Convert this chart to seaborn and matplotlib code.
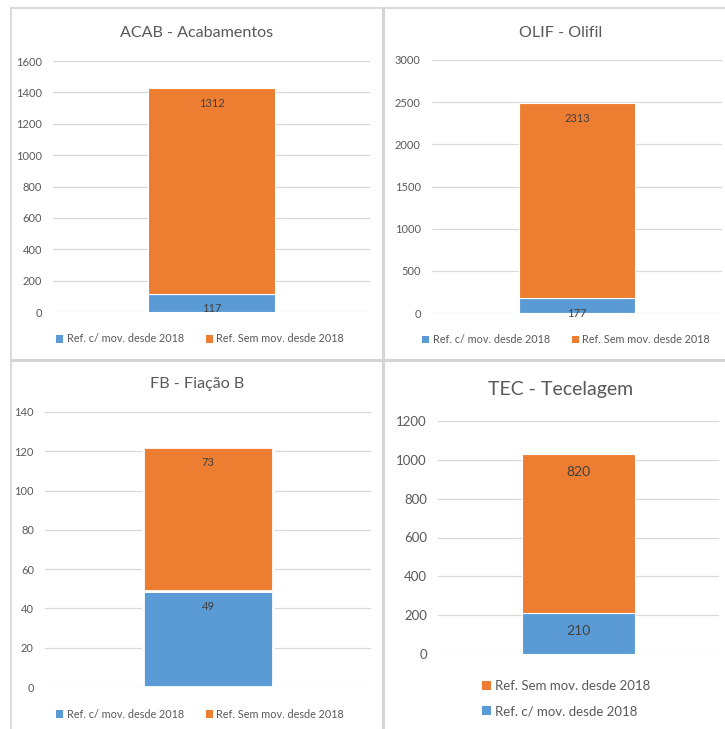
import matplotlib
matplotlib.use("Agg")
import matplotlib.pyplot as plt
from matplotlib.patches import Patch
from matplotlib.lines import Line2D
import seaborn as sns
import pandas as pd

sns.set_theme(style="white")
plt.rcParams['font.family'] = ['Lato', 'DejaVu Sans']

# ---- data ----
titles = ["ACAB - Acabamentos", "OLIF - Olifil", "FB - Fiação B", "TEC - Tecelagem"]
com_mov = [117, 177, 49, 210]        # Ref. c/ mov. desde 2018
sem_mov = [1312, 2313, 73, 820]      # Ref. Sem mov. desde 2018
y_max = [1600, 3000, 140, 1200]
y_step = [200, 500, 20, 200]
label_com = "Ref. c/ mov. desde 2018"
label_sem = "Ref. Sem mov. desde 2018"

BLUE = "#5B9BD5"
ORANGE = "#ED7D31"
TXT = "#595959"
GRID = "#D9D9D9"

W, H = 725, 729
fig = plt.figure(figsize=(W / 100, H / 100), dpi=100)
fig.patch.set_facecolor("white")

# pixel boxes: left, right, top, bottom
boxes = [(53, 370, 61, 312), (432, 722, 60, 313), (45, 371, 412, 687), (438, 719, 421, 654)]
title_pos = [(197, 33, 11.6), (561, 33, 11.6), (197, 384, 11.6), (561, 389, 14)]
tick_fs = [8, 8, 8, 9.5]
lab_fs = [8, 8, 8, 10]
leg_y = [339, 340, 714, 698.5]
leg_x = [200, 566, 200, 566]
leg_fs = [7.8, 7.8, 7.8, 9.5]
edge_lw = [0.8, 0.8, 2.0, 0.8]


def fx(px):
    return px / W


def fy(py):
    return 1 - py / H


for i in range(4):
    l, r, t, b = boxes[i]
    ax = fig.add_axes([fx(l), fy(b), fx(r) - fx(l), fy(t) - fy(b)])
    df = pd.DataFrame({"cat": [titles[i]], "com": [com_mov[i]], "sem": [sem_mov[i]]})
    sns.barplot(data=df, x="cat", y="com", color=BLUE, width=0.4, ax=ax,
                edgecolor="white", linewidth=edge_lw[i], saturation=1, zorder=3)
    sns.barplot(data=df, x="cat", y="sem", bottom=df["com"].values, color=ORANGE, width=0.4,
                ax=ax, edgecolor="white", linewidth=edge_lw[i], saturation=1, zorder=3)
    ax.set_xlim(-0.5, 0.5)
    ax.set_ylim(0, y_max[i])
    ax.set_yticks(range(0, y_max[i] + 1, y_step[i]))
    ax.set_xticks([])
    ax.set_xlabel("")
    ax.set_ylabel("")
    ax.tick_params(axis="y", length=0, pad=8, labelsize=tick_fs[i], labelcolor=TXT)
    ax.grid(axis="y", color=GRID, linewidth=0.9, zorder=0)
    ax.set_axisbelow(True)
    for s in ax.spines.values():
        s.set_visible(False)
    ax.patch.set_alpha(0)
    # data labels (inside end)
    off = -11 if i < 3 else -13
    ax.annotate(str(com_mov[i]), (0, com_mov[i]), xytext=(0, off), textcoords="offset points",
                ha="center", va="center", fontsize=lab_fs[i], color="#404040", zorder=5)
    ax.annotate(str(sem_mov[i]), (0, com_mov[i] + sem_mov[i]), xytext=(0, off),
                textcoords="offset points", ha="center", va="center", fontsize=lab_fs[i],
                color="#404040", zorder=5)
    # title
    tx, ty, tfs = title_pos[i]
    fig.text(fx(tx), fy(ty), titles[i], ha="center", va="center", fontsize=tfs, color=TXT)
    # legend
    h_com = Patch(facecolor=BLUE, edgecolor="none")
    h_sem = Patch(facecolor=ORANGE, edgecolor="none")
    if i == 3:
        handles, labels, ncol = [h_sem, h_com], [label_sem, label_com], 1
    else:
        handles, labels, ncol = [h_com, h_sem], [label_com, label_sem], 2
    fig.legend(handles, labels, loc="center", bbox_to_anchor=(fx(leg_x[i]), fy(leg_y[i])),
               ncol=ncol, frameon=False, fontsize=leg_fs[i], labelcolor=TXT,
               handlelength=0.7, handleheight=0.7, handletextpad=0.3, columnspacing=2.0,
               labelspacing=1.0, borderaxespad=0, borderpad=0)

# panel separators
sep = "#D4D4D4"
fig.add_artist(Line2D([fx(11), fx(725)], [fy(8), fy(8)], color=sep, lw=1.2))
fig.add_artist(Line2D([fx(11), fx(11)], [fy(8), fy(729)], color=sep, lw=1.2))
fig.add_artist(Line2D([fx(383), fx(383)], [fy(8), fy(729)], color=sep, lw=2.2))
fig.add_artist(Line2D([fx(11), fx(725)], [fy(360), fy(360)], color=sep, lw=2.2))

fig.savefig("out.png", dpi=100, facecolor="white")
